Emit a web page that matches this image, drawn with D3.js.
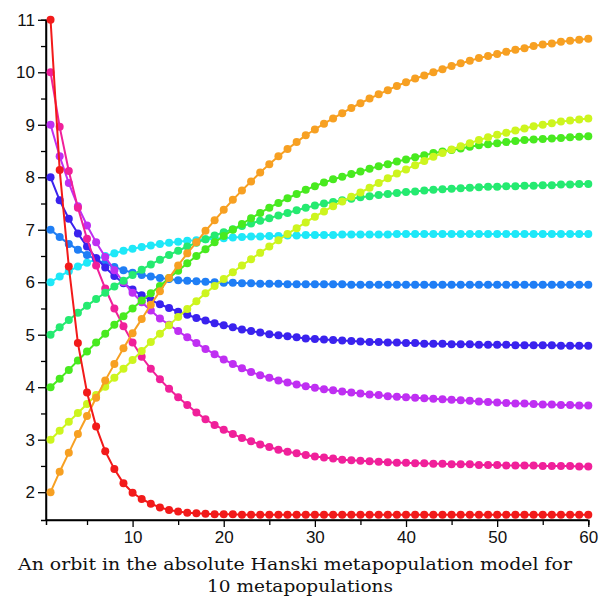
<!DOCTYPE html>
<html>
<head>
<meta charset="utf-8">
<script src="https://cdn.jsdelivr.net/npm/d3@7/dist/d3.min.js"></script>
<style>
  html, body { margin: 0; padding: 0; background: #fff; }
  svg { display: block; }
</style>
</head>
<body>
<div id="chart"></div>
<script>
// time steps of the orbit
var steps = d3.range(1, 61);

// one orbit per metapopulation
var orbitRed = [11.00, 8.14, 6.30, 4.84, 3.90, 3.25, 2.78, 2.44, 2.17, 1.99,
  1.87, 1.78, 1.71, 1.66, 1.63, 1.61, 1.60, 1.59, 1.58, 1.58,
  1.58, 1.57, 1.57, 1.57, 1.57, 1.57, 1.57, 1.57, 1.57, 1.57,
  1.57, 1.57, 1.57, 1.57, 1.57, 1.57, 1.57, 1.57, 1.57, 1.57,
  1.57, 1.57, 1.57, 1.57, 1.57, 1.57, 1.57, 1.57, 1.57, 1.57,
  1.57, 1.57, 1.57, 1.57, 1.57, 1.57, 1.57, 1.57, 1.57, 1.57];
var orbitMagenta = [10.00, 8.96, 8.12, 7.42, 6.83, 6.32, 5.88, 5.50, 5.16, 4.85,
  4.58, 4.35, 4.15, 3.97, 3.81, 3.66, 3.52, 3.39, 3.28, 3.19,
  3.11, 3.03, 2.97, 2.91, 2.86, 2.81, 2.77, 2.74, 2.71, 2.68,
  2.66, 2.64, 2.62, 2.61, 2.60, 2.59, 2.58, 2.57, 2.56, 2.56,
  2.55, 2.55, 2.54, 2.54, 2.53, 2.53, 2.53, 2.52, 2.52, 2.52,
  2.51, 2.51, 2.51, 2.51, 2.50, 2.50, 2.50, 2.50, 2.49, 2.49];
var orbitPurple = [9.00, 8.40, 7.89, 7.45, 7.08, 6.76, 6.48, 6.23, 6.00, 5.80,
  5.62, 5.46, 5.31, 5.19, 5.07, 4.95, 4.84, 4.73, 4.63, 4.53,
  4.44, 4.36, 4.29, 4.23, 4.18, 4.13, 4.09, 4.05, 4.02, 3.99,
  3.96, 3.94, 3.92, 3.90, 3.88, 3.86, 3.85, 3.83, 3.82, 3.81,
  3.80, 3.79, 3.78, 3.77, 3.76, 3.75, 3.74, 3.73, 3.72, 3.71,
  3.70, 3.69, 3.69, 3.68, 3.67, 3.67, 3.66, 3.66, 3.65, 3.65];
var orbitBlue = [8.00, 7.56, 7.21, 6.93, 6.68, 6.46, 6.28, 6.12, 5.98, 5.86,
  5.75, 5.66, 5.58, 5.51, 5.44, 5.38, 5.32, 5.27, 5.22, 5.18,
  5.14, 5.10, 5.07, 5.04, 5.01, 4.99, 4.97, 4.95, 4.93, 4.92,
  4.91, 4.90, 4.89, 4.88, 4.87, 4.86, 4.86, 4.85, 4.85, 4.84,
  4.84, 4.83, 4.83, 4.83, 4.82, 4.82, 4.82, 4.81, 4.81, 4.81,
  4.81, 4.80, 4.80, 4.80, 4.80, 4.80, 4.79, 4.79, 4.79, 4.79];
var orbitAzure = [7.00, 6.86, 6.73, 6.62, 6.52, 6.43, 6.36, 6.29, 6.23, 6.18,
  6.14, 6.11, 6.08, 6.06, 6.04, 6.03, 6.02, 6.01, 6.00, 5.99,
  5.99, 5.98, 5.98, 5.97, 5.97, 5.97, 5.96, 5.96, 5.96, 5.96,
  5.96, 5.96, 5.96, 5.95, 5.95, 5.95, 5.95, 5.95, 5.95, 5.95,
  5.95, 5.95, 5.95, 5.95, 5.95, 5.95, 5.95, 5.95, 5.95, 5.95,
  5.95, 5.95, 5.95, 5.95, 5.95, 5.95, 5.95, 5.95, 5.95, 5.95];
var orbitCyan = [6.00, 6.11, 6.21, 6.30, 6.37, 6.44, 6.50, 6.55, 6.60, 6.64,
  6.67, 6.70, 6.73, 6.75, 6.77, 6.79, 6.80, 6.82, 6.83, 6.84,
  6.85, 6.86, 6.87, 6.87, 6.88, 6.88, 6.89, 6.89, 6.90, 6.90,
  6.90, 6.90, 6.91, 6.91, 6.91, 6.91, 6.91, 6.91, 6.92, 6.92,
  6.92, 6.92, 6.92, 6.92, 6.92, 6.92, 6.92, 6.92, 6.92, 6.92,
  6.92, 6.92, 6.92, 6.92, 6.92, 6.92, 6.92, 6.92, 6.92, 6.92];
var orbitSpring = [5.00, 5.14, 5.28, 5.42, 5.55, 5.68, 5.80, 5.92, 6.03, 6.14,
  6.24, 6.34, 6.43, 6.52, 6.60, 6.68, 6.75, 6.82, 6.89, 6.95,
  7.01, 7.07, 7.12, 7.17, 7.22, 7.27, 7.32, 7.37, 7.42, 7.46,
  7.50, 7.53, 7.56, 7.59, 7.62, 7.64, 7.66, 7.68, 7.70, 7.72,
  7.73, 7.75, 7.76, 7.77, 7.78, 7.79, 7.80, 7.81, 7.82, 7.82,
  7.83, 7.83, 7.84, 7.84, 7.85, 7.85, 7.86, 7.86, 7.87, 7.87];
var orbitLime = [4.00, 4.16, 4.33, 4.51, 4.68, 4.85, 5.02, 5.19, 5.35, 5.50,
  5.65, 5.79, 5.93, 6.08, 6.22, 6.36, 6.50, 6.63, 6.76, 6.88,
  7.00, 7.11, 7.22, 7.32, 7.42, 7.51, 7.60, 7.68, 7.76, 7.83,
  7.90, 7.96, 8.01, 8.06, 8.11, 8.16, 8.21, 8.25, 8.30, 8.34,
  8.38, 8.42, 8.46, 8.49, 8.52, 8.55, 8.58, 8.61, 8.63, 8.65,
  8.67, 8.69, 8.71, 8.72, 8.73, 8.74, 8.75, 8.76, 8.77, 8.78];
var orbitYellow = [3.00, 3.17, 3.34, 3.51, 3.68, 3.85, 4.01, 4.18, 4.35, 4.52,
  4.69, 4.86, 5.02, 5.18, 5.34, 5.49, 5.64, 5.79, 5.93, 6.06,
  6.19, 6.32, 6.44, 6.56, 6.68, 6.80, 6.92, 7.03, 7.14, 7.25,
  7.35, 7.45, 7.54, 7.63, 7.71, 7.80, 7.89, 7.98, 8.07, 8.15,
  8.23, 8.31, 8.39, 8.46, 8.53, 8.59, 8.65, 8.71, 8.76, 8.81,
  8.85, 8.89, 8.93, 8.97, 9.00, 9.03, 9.06, 9.08, 9.10, 9.12];
var orbitOrange = [2.00, 2.39, 2.75, 3.11, 3.45, 3.80, 4.13, 4.44, 4.74, 5.03,
  5.30, 5.57, 5.83, 6.08, 6.32, 6.55, 6.76, 6.98, 7.18, 7.38,
  7.57, 7.75, 7.92, 8.09, 8.25, 8.40, 8.54, 8.67, 8.80, 8.91,
  9.02, 9.12, 9.22, 9.32, 9.41, 9.50, 9.58, 9.66, 9.74, 9.81,
  9.88, 9.94, 10.00, 10.06, 10.12, 10.17, 10.22, 10.27, 10.31, 10.35,
  10.39, 10.43, 10.46, 10.50, 10.53, 10.55, 10.58, 10.60, 10.62, 10.64];

// drawing order, bottom to top
var orbits = [orbitCyan, orbitAzure, orbitBlue, orbitPurple, orbitMagenta,
  orbitSpring, orbitLime, orbitYellow, orbitOrange, orbitRed];
var orbitColors = ['#1ee8f8', '#1f7ef5', '#3a22ee', '#bf2ff2', '#f0209a',
  '#25ea70', '#48ea1f', '#cdf51e', '#f7a022', '#f21a1a'];

var xTicks = [10, 20, 30, 40, 50, 60];
var xMinorTicks = [5, 15, 25, 35, 45, 55];
var yTicks = [2, 3, 4, 5, 6, 7, 8, 9, 10, 11];
var yMinorTicks = [2.5, 3.5, 4.5, 5.5, 6.5, 7.5, 8.5, 9.5, 10.5];
var titleLines = ['An orbit in the absolute Hanski metapopulation model for',
  '10 metapopulations'];

var width = 600, height = 603;
var svg, x, y, line;

svg = d3.select('#chart').append('svg')
  .attr('width', width)
  .attr('height', height);
svg.append('rect')
  .attr('width', width)
  .attr('height', height)
  .attr('fill', '#fff');

// scales
x = d3.scaleLinear().domain([0.5, 60]).range([46, 588.3]);
y = d3.scaleLinear().domain([1.47, 11]).range([520, 19.8]);

// axes
var yAxis = svg.append('g')
  .attr('transform', 'translate(46,0)')
  .call(d3.axisLeft(y).tickValues(yTicks).tickSize(8).tickPadding(3).tickFormat(d3.format('d')));
yAxis.append('g')
  .call(d3.axisLeft(y).tickValues(yMinorTicks).tickSize(5).tickFormat(''));
var xAxis = svg.append('g')
  .attr('transform', 'translate(0,520)')
  .call(d3.axisBottom(x).tickValues(xTicks).tickSize(7).tickPadding(4).tickFormat(d3.format('d')));
xAxis.append('g')
  .call(d3.axisBottom(x).tickValues(xMinorTicks).tickSize(5).tickFormat(''));

svg.selectAll('.domain')
  .attr('stroke', '#000')
  .attr('stroke-width', 1.5);
svg.selectAll('.tick line')
  .attr('stroke', '#000')
  .attr('stroke-width', 1.3);
svg.selectAll('.tick text')
  .attr('font-family', '"Liberation Sans", Arial, sans-serif')
  .attr('font-size', 17)
  .attr('fill', '#111');
// axisLeft domain draws outer ticks, keep only the line
yAxis.select('.domain').attr('d', 'M0,' + y(11) + 'V520');
xAxis.select('.domain').attr('d', 'M46,0H' + x(60));

// orbits
line = d3.line()
  .x(function (d, i) { return x(steps[i]); })
  .y(function (d) { return y(d); });

var plot = svg.append('g');
orbits.forEach(function (orbit, k) {
  var g = plot.append('g');
  g.append('path')
    .attr('d', line(orbit))
    .attr('fill', 'none')
    .attr('stroke', orbitColors[k])
    .attr('stroke-width', 2);
  g.selectAll('circle')
    .data(orbit)
    .enter()
    .append('circle')
    .attr('cx', function (d, i) { return x(steps[i]); })
    .attr('cy', function (d) { return y(d); })
    .attr('r', 4)
    .attr('fill', orbitColors[k]);
});

// caption, stretched to the width it has in the original
svg.selectAll('.caption')
  .data(titleLines)
  .enter()
  .append('text')
  .attr('class', 'caption')
  .attr('x', function (d, i) { return i === 0 ? 18 : 207; })
  .attr('y', function (d, i) { return i === 0 ? 570 : 592; })
  .attr('textLength', function (d, i) { return i === 0 ? 554 : 186; })
  .attr('lengthAdjust', 'spacingAndGlyphs')
  .attr('font-family', '"DejaVu Serif", "Liberation Serif", serif')
  .attr('font-size', 17)
  .attr('fill', '#111')
  .text(function (d) { return d; });
</script>
</body>
</html>
